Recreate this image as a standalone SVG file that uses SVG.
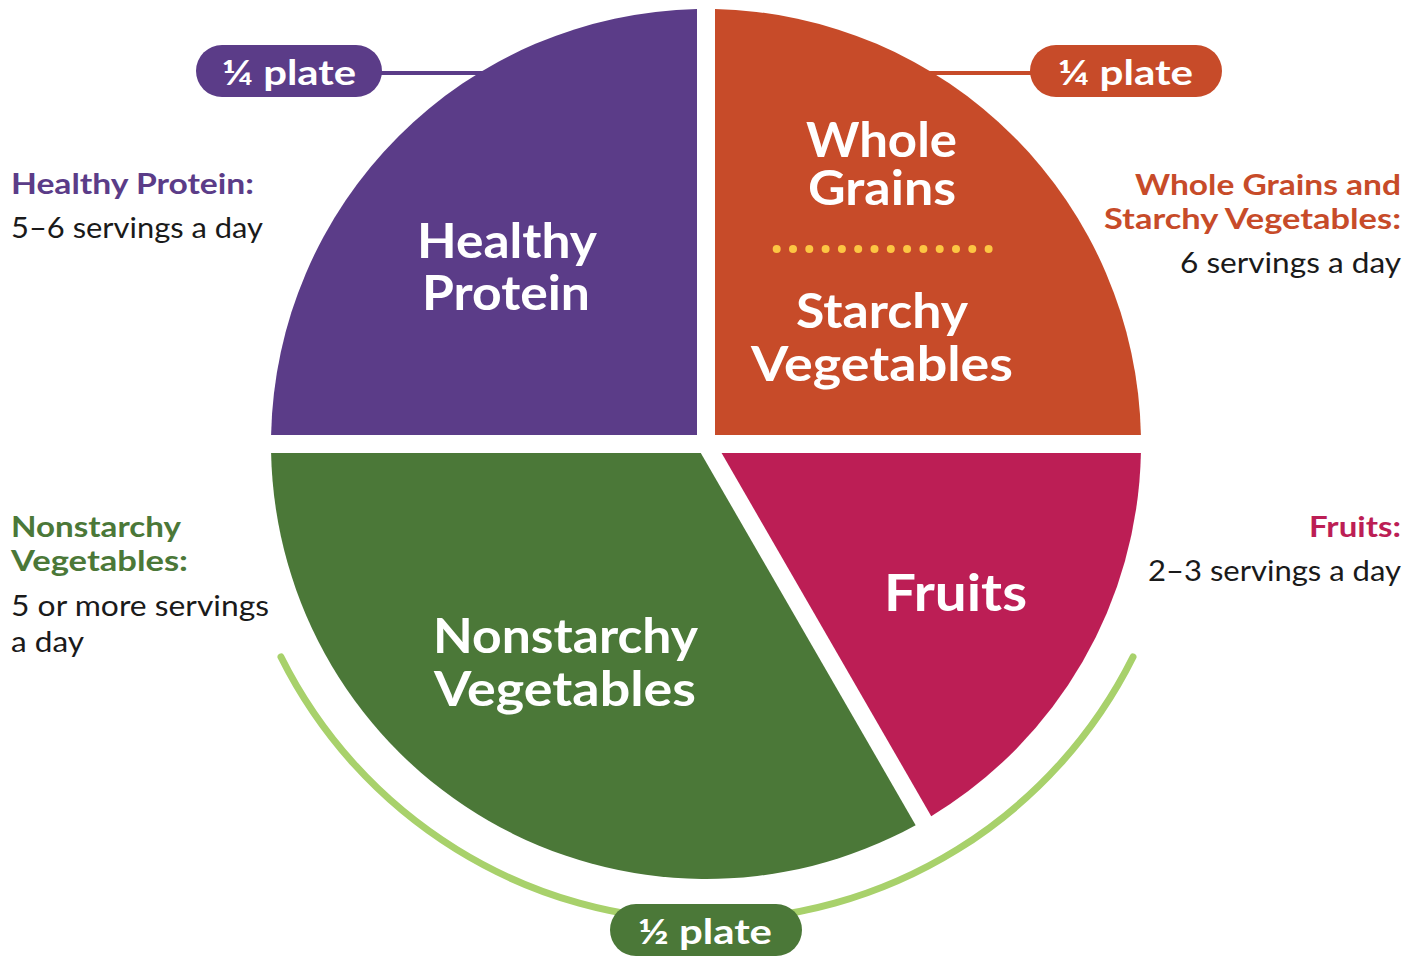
<svg xmlns="http://www.w3.org/2000/svg" width="1421" height="957" viewBox="0 0 1421 957">
<style>
.hd{font-family:Lato,"Open Sans",sans-serif;font-weight:700;font-size:29px}
.bd{font-family:Lato,"Open Sans",sans-serif;font-weight:400;font-size:29px;fill:#1a1a1a}
.in{font-family:Lato,"Open Sans",sans-serif;font-weight:700;font-size:47px;fill:#fff;text-anchor:middle}
.pl{font-family:Lato,"Open Sans",sans-serif;font-weight:700;font-size:35px;fill:#fff;text-anchor:middle}
.r{text-anchor:end}
</style>
<rect width="1421" height="957" fill="#fff"/>
<g id="connectors" fill="none" stroke-linecap="round">
  <line x1="381" y1="73" x2="490" y2="73" stroke="#5B3C88" stroke-width="4"/>
  <line x1="925" y1="73" x2="1031" y2="73" stroke="#C74B29" stroke-width="4"/>
  <path d="M281,657 A476,476 0 0 0 1133,657" stroke="#A8D16B" stroke-width="7"/>
</g>
<g id="protein">
  <path d="M697,435 L697,9.09 A435,435 0 0 0 271.09,435 Z" fill="#5B3C88"/>
  <text class="in" x="507" y="258" textLength="180" lengthAdjust="spacingAndGlyphs">Healthy</text>
  <text class="in" x="506" y="310" textLength="168" lengthAdjust="spacingAndGlyphs">Protein</text>
</g>
<g id="grains">
  <path d="M715,435 L715,9.09 A435,435 0 0 1 1140.91,435 Z" fill="#C74B29"/>
  <text class="in" x="881.5" y="157" textLength="151" lengthAdjust="spacingAndGlyphs">Whole</text>
  <text class="in" x="882" y="205" textLength="148" lengthAdjust="spacingAndGlyphs">Grains</text>
  <g fill="#FCC643">
    <circle cx="776.7" cy="249" r="4"/><circle cx="793" cy="249" r="4"/><circle cx="809.3" cy="249" r="4"/><circle cx="825.6" cy="249" r="4"/><circle cx="841.9" cy="249" r="4"/><circle cx="858.2" cy="249" r="4"/><circle cx="874.5" cy="249" r="4"/><circle cx="890.8" cy="249" r="4"/><circle cx="907.1" cy="249" r="4"/><circle cx="923.4" cy="249" r="4"/><circle cx="939.7" cy="249" r="4"/><circle cx="956" cy="249" r="4"/><circle cx="972.3" cy="249" r="4"/><circle cx="988.6" cy="249" r="4"/>
  </g>
  <text class="in" x="882" y="328" textLength="172" lengthAdjust="spacingAndGlyphs">Starchy</text>
  <text class="in" x="882" y="381" textLength="262" lengthAdjust="spacingAndGlyphs">Vegetables</text>
</g>
<g id="fruits">
  <path d="M721.59,453 L1140.91,453 A435,435 0 0 1 931.24,816.14 Z" fill="#BC1E55"/>
  <text class="in" x="955.5" y="611" style="font-size:51px" textLength="143" lengthAdjust="spacingAndGlyphs">Fruits</text>
</g>
<g id="nonstarchy">
  <path d="M700.8,453 L915.66,825.14 A435,435 0 0 1 271.09,453 Z" fill="#4B7838"/>
  <text class="in" x="565.5" y="653" textLength="265" lengthAdjust="spacingAndGlyphs">Nonstarchy</text>
  <text class="in" x="565" y="706" textLength="262" lengthAdjust="spacingAndGlyphs">Vegetables</text>
</g>
<g id="pill-protein">
  <rect x="196" y="45" width="186" height="52" rx="26" fill="#5B3C88"/>
  <text class="pl" x="289" y="85" textLength="134" lengthAdjust="spacingAndGlyphs">¼ plate</text>
</g>
<g id="pill-grains">
  <rect x="1030" y="45" width="192" height="52" rx="26" fill="#C74B29"/>
  <text class="pl" x="1125.5" y="85" textLength="135" lengthAdjust="spacingAndGlyphs">¼ plate</text>
</g>
<g id="pill-half">
  <rect x="610" y="904" width="192" height="52" rx="26" fill="#4B7838"/>
  <text class="pl" x="705" y="944" textLength="134" lengthAdjust="spacingAndGlyphs">½ plate</text>
</g>
<g id="label-protein">
  <text class="hd" x="11" y="194" fill="#5B3C88" textLength="243" lengthAdjust="spacingAndGlyphs">Healthy Protein:</text>
  <text class="bd" x="11" y="238" textLength="252" lengthAdjust="spacingAndGlyphs">5–6 servings a day</text>
</g>
<g id="label-grains">
  <text class="hd r" x="1401" y="195" fill="#C74B29" textLength="266" lengthAdjust="spacingAndGlyphs">Whole Grains and</text>
  <text class="hd r" x="1401" y="229" fill="#C74B29" textLength="297" lengthAdjust="spacingAndGlyphs">Starchy Vegetables:</text>
  <text class="bd r" x="1401" y="273" textLength="221" lengthAdjust="spacingAndGlyphs">6 servings a day</text>
</g>
<g id="label-nonstarchy">
  <text class="hd" x="11" y="537" fill="#4B7838" textLength="170" lengthAdjust="spacingAndGlyphs">Nonstarchy</text>
  <text class="hd" x="11" y="571" fill="#4B7838" textLength="177" lengthAdjust="spacingAndGlyphs">Vegetables:</text>
  <text class="bd" x="11" y="616" textLength="258" lengthAdjust="spacingAndGlyphs">5 or more servings</text>
  <text class="bd" x="11" y="652" textLength="73" lengthAdjust="spacingAndGlyphs">a day</text>
</g>
<g id="label-fruits">
  <text class="hd r" x="1401" y="537" fill="#BC1E55" textLength="92" lengthAdjust="spacingAndGlyphs">Fruits:</text>
  <text class="bd r" x="1401" y="581" textLength="253" lengthAdjust="spacingAndGlyphs">2–3 servings a day</text>
</g>
</svg>
